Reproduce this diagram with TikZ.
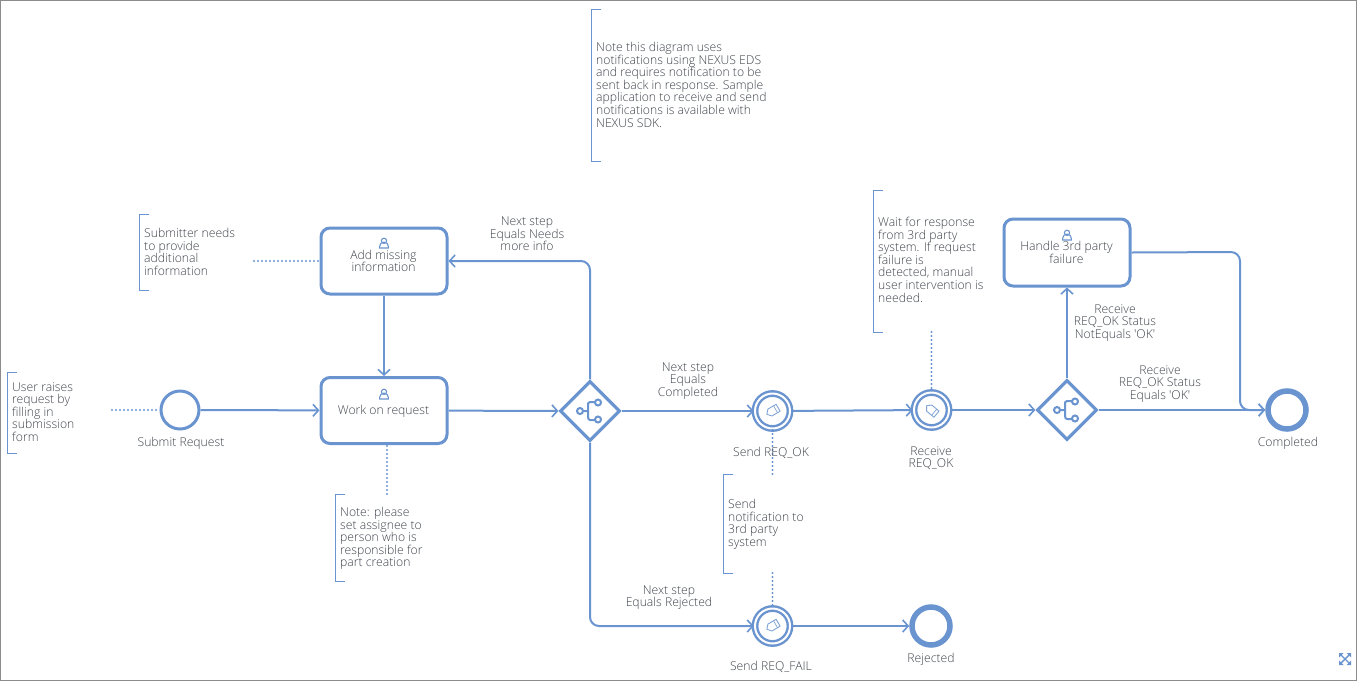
\documentclass[tikz,border=0pt]{standalone}
\usepackage{fontspec}
\newfontfamily\tf{Open Sans Light}
\usetikzlibrary{arrows.meta,shapes.geometric,calc}
\definecolor{bp}{HTML}{6A94CF}
\definecolor{tx}{HTML}{3F444C}
\tikzset{
  txt/.style={text=tx,font=\tf\fontsize{12.2}{12.6}\selectfont,inner sep=0pt,align=center},
  note/.style={txt,align=left,anchor=north west},
  task/.style={draw=bp,line width=3pt,rounded corners=9pt,minimum width=126pt,minimum height=66pt,inner sep=0pt,fill=white},
  start/.style={circle,draw=bp,line width=3pt,minimum size=38pt,inner sep=0pt,fill=white},
  finish/.style={circle,draw=bp,line width=5.5pt,minimum size=38pt,inner sep=0pt,fill=white},
  inter/.style={circle,draw=bp,line width=2.4pt,double=white,double distance=2pt,minimum size=35pt,inner sep=0pt,fill=white},
  gate/.style={diamond,draw=bp,line width=3.2pt,minimum width=60pt,minimum height=60pt,inner sep=0pt,fill=white},
  flow/.style={draw=bp,line width=2pt,rounded corners=9pt,-{Straight Barb[length=5.5pt,width=12pt,line width=1.6pt]}},
  link/.style={draw=bp,line width=2.2pt,line cap=round,dash pattern=on 0pt off 4pt},
  brk/.style={draw=bp,line width=1pt},
  icon/.style={draw=bp,line width=1.1pt},
}
\newcommand{\personicon}[1]{%
  \draw[icon] ($(#1)+(0,-2.2)$) circle (2.6pt);
  \draw[icon] ($(#1)+(-4.4,5)$) -- ++(0,-1.5) arc[start angle=180,end angle=0,radius=4.4pt] -- ++(0,1.5) -- cycle;}
\newcommand{\gateicon}[1]{%
  \begin{scope}[shift={(#1)}]
  \draw[bp,line width=2pt] (-7,0) -- (-2,0) (5,-9) -- (0,-9) .. controls (-2,-9) and (-2,-7) .. (-2,-6) -- (-2,6) .. controls (-2,8) and (-1,9) .. (0,9) -- (5,9);
  \draw[bp,line width=2pt,fill=white] (-10,0) circle (3pt) (8,-8.5) circle (3pt) (8,8.5) circle (3pt);
  \end{scope}}
\newcommand{\mailicon}[2]{%
  \begin{scope}[shift={(#1)},rotate=#2]
  \draw[bp!85,line width=.9pt,line join=round] (-6.5,-4) -- (3,-4) -- (6.5,0) -- (3,4) -- (-6.5,4) -- cycle;
  \draw[bp!85,line width=.7pt] (-3.5,-4) -- (-3.5,4);
  \end{scope}}
\begin{document}
\begin{tikzpicture}[x=1pt,y=-1pt]
\useasboundingbox (0,0) rectangle (1357,681);
\draw[draw=gray!90,line width=1.2pt] (0.5,0.5) rectangle (1356.5,680.5);

% shapes
\node[start] (submit) at (180,410) {};
\node[task] (work) at (384,410.5) {};
\node[task] (add) at (384,261) {};
\node[gate] (g1) at (590,411) {};
\node[inter] (ok) at (772.5,411) {};
\node[inter] (recv) at (931.5,410) {};
\node[gate] (g2) at (1067,410) {};
\node[finish] (done) at (1287,410) {};
\node[task,minimum height=67pt] (handle) at (1067,252.5) {};
\node[inter] (fail) at (772.5,626) {};
\node[finish] (rej) at (931,626) {};

% connectors
\coordinate (c1) at (590,261);
\coordinate (c2) at (590,626);
\coordinate (c3) at (1240,252);
\coordinate (c4) at (1240,410);
\draw[flow] (submit) -- (work);
\draw[flow] (add) -- (work);
\draw[flow] (work) -- (g1);
\draw[flow] (g1) -- (ok);
\draw[flow] (ok) -- (recv);
\draw[flow] (recv) -- (g2);
\draw[flow] (g2) -- (done);
\draw[flow] (g2) -- (handle);
\draw[flow] (g1) -- (c1) -- (add);
\draw[flow] (g1) -- (c2) -- (fail);
\draw[flow] (fail) -- (rej);
\draw[flow] (handle.east) -- (c3) -- (c4) -- (done);

% icons
\personicon{384,394}
\personicon{384,243}
\personicon{1067,235}
\gateicon{590,411}
\gateicon{1067,410}
\mailicon{772.5,411}{210}
\mailicon{772.5,626}{210}
\mailicon{931.5,410}{140}

% annotations
\coordinate (a1) at (112,410);
\coordinate (a2) at (254,261);
\coordinate (a3) at (387,494);
\coordinate (a4) at (772.5,474);
\coordinate (a5) at (772.5,573);
\coordinate (a6) at (931.5,332);
\coordinate (a7) at (387,446);
\node[note] (n0) at (596,42) {Note this diagram uses\\notifications using NEXUS EDS\\and requires notification to be\\sent back in response. Sample\\application to receive and send\\notifications is available with\\NEXUS SDK.};
\draw[brk] (601,9) -- (591,9) -- (591,161) -- (601,161);
\node[note] (n1) at (878,217) {Wait for response\\from 3rd party\\system. If request\\failure is\\detected, manual\\user intervention is\\needed.};
\draw[brk] (883,190) -- (873,190) -- (873,332) -- (883,332);
\node[note] (n2) at (144,228) {Submitter needs\\to provide\\additional\\information};
\draw[brk] (149,214) -- (139,214) -- (139,290) -- (149,290);
\node[note] (n3) at (12,382) {User raises\\request by\\filling in\\submission\\form};
\draw[brk] (17,372) -- (7,372) -- (7,453) -- (17,453);
\node[note] (n4) at (340,507) {Note: please\\set assignee to\\person who is\\responsible for\\part creation};
\draw[brk] (345,494) -- (335,494) -- (335,581) -- (345,581);
\node[note] (n5) at (728,499) {Send\\notification to\\3rd party\\system};
\draw[brk] (733,474) -- (723,474) -- (723,573) -- (733,573);
\draw[link] (a1) -- (submit);
\draw[link] (a2) -- (add);
\draw[link] (a3) -- (a7);
\draw[link] (a4) -- (ok);
\draw[link] (a5) -- (fail);
\draw[link] (a6) -- (recv);

% labels
\node[txt] (l1) at (383.5,411) {Work on request};
\node[txt] (l2) at (383.5,261) {Add missing\\information};
\node[txt] (l3) at (1066.5,252.5) {Handle 3rd party\\failure};
\node[txt] (l4) at (181,443) {Submit Request};
\node[txt] (l5) at (771,453) {Send REQ\_OK};
\node[txt] (l6) at (931,458) {Receive\\REQ\_OK};
\node[txt] (l7) at (1288,443) {Completed};
\node[txt] (l8) at (771,667) {Send REQ\_FAIL};
\node[txt] (l9) at (931,659) {Rejected};
\node[txt] (l10) at (527,234) {Next step\\Equals Needs\\more info};
\node[txt] (l11) at (688,381) {Next step\\Equals\\Completed};
\node[txt] (l12) at (669,597.5) {Next step\\Equals Rejected};
\node[txt] (l13) at (1115,323) {Receive\\REQ\_OK Status\\NotEquals 'OK'};
\node[txt] (l14) at (1160,384) {Receive\\REQ\_OK Status\\Equals 'OK'};

% expand icon
\begin{scope}[shift={(1345,659)}]
\fill[bp] (-6,-6) -- (-1.5,-6) -- (-6,-1.5) -- cycle (6,-6) -- (1.5,-6) -- (6,-1.5) -- cycle (-6,6) -- (-1.5,6) -- (-6,1.5) -- cycle (6,6) -- (1.5,6) -- (6,1.5) -- cycle;
\draw[bp,line width=1.4pt] (-4,-4) -- (4,4) (4,-4) -- (-4,4);
\end{scope}
\end{tikzpicture}
\end{document}
